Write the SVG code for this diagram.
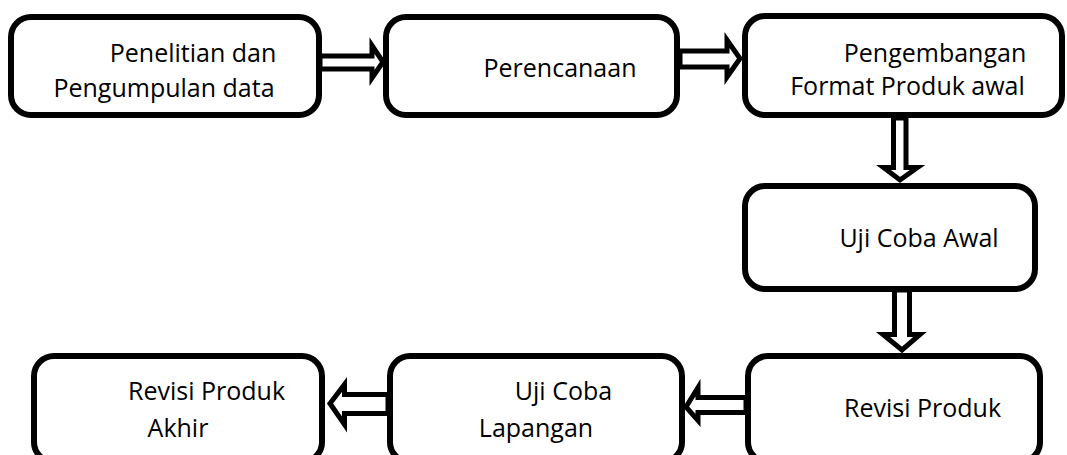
<svg xmlns="http://www.w3.org/2000/svg" width="1067" height="455" viewBox="0 0 1067 455">
<style>
.box{fill:#fff;stroke:#000;stroke-width:6}
.arr{fill:#fff;stroke:#000;stroke-width:5;stroke-linejoin:miter;stroke-miterlimit:10}
text{font-family:"Open Sans","Noto Sans",sans-serif;font-size:25px;fill:#000;text-anchor:middle}
</style>
<rect width="1067" height="455" fill="#fff"/>
<g id="connectors">
<polygon class="arr" points="320,56 372,56 372,45.5 383,62 372,78 372,69 320,69"/>
<polygon class="arr" points="680,51 727,51 727,40 740,58.5 727,77 727,67 680,67"/>
<polygon class="arr" points="893.5,118 893.5,167.5 883.5,167.5 900,180 917.5,167.5 906,167.5 906,118"/>
<polygon class="arr" points="894.5,290 894.5,334.5 883,334.5 902,350 920,334.5 909.5,334.5 909.5,290"/>
<polygon class="arr" points="746,397.5 698,397.5 698,387.5 686,407 698,420.5 698,412.5 746,412.5"/>
<polygon class="arr" points="388,394.5 344.5,394.5 344.5,384.5 330,403.5 344.5,424.5 344.5,413.5 388,413.5"/>
</g>
<g id="node1"><rect class="box" x="11" y="17" width="308" height="98" rx="20"/><text x="193" y="61.5">Penelitian dan</text><text x="164" y="96.5">Pengumpulan data</text></g>
<g id="node2"><rect class="box" x="386" y="17" width="291" height="98" rx="20"/><text x="560" y="76.5">Perencanaan</text></g>
<g id="node3"><rect class="box" x="745" y="16" width="317" height="99" rx="20"/><text x="935" y="61.5">Pengembangan</text><text x="907.5" y="95">Format Produk awal</text></g>
<g id="node4"><rect class="box" x="745" y="186" width="290" height="103" rx="20"/><text x="919" y="246.5">Uji Coba Awal</text></g>
<g id="node5"><rect class="box" x="748" y="356" width="292" height="106" rx="20"/><text x="922.5" y="416.5">Revisi Produk</text></g>
<g id="node6"><rect class="box" x="390" y="356" width="292" height="106" rx="20"/><text x="563.5" y="400">Uji Coba</text><text x="536" y="436.5">Lapangan</text></g>
<g id="node7"><rect class="box" x="34" y="356" width="288" height="106" rx="20"/><text x="206.5" y="400">Revisi Produk</text><text x="178" y="436.5">Akhir</text></g>
</svg>
